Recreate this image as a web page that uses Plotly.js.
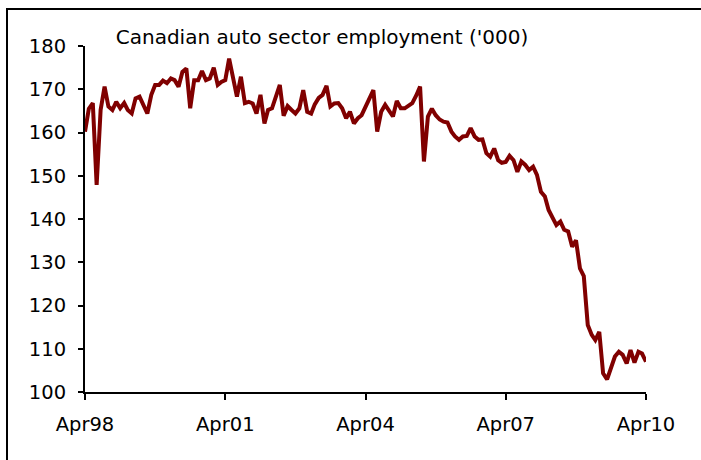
<!DOCTYPE html>
<html>
<head>
<meta charset="utf-8">
<script src="https://cdn.plot.ly/plotly-3.0.1.min.js"></script>
<style>
  html, body { margin: 0; padding: 0; background: #fff; overflow: hidden; }
  #wrap { position: relative; width: 701px; height: 460px; }
  #chart { position: absolute; left: 0; top: 0; width: 701px; height: 460px; }
  #frame { position: absolute; left: 6px; top: 8px; width: 800px; height: 600px;
           border-left: 2px solid #000; border-top: 2px solid #000; pointer-events: none; }
</style>
</head>
<body>
<div id="wrap">
  <div id="chart"></div>
  <div id="frame"></div>
</div>
<script>
// Monthly series, Apr 1998 .. Apr 2010 (thousands)
const startYear = 1998;
const startMonth = 4;
const employment = [
  160.2, 165.5, 166.8, 147.9, 165.2, 170.6, 166.0, 165.2, 167.1, 165.6,
  166.8, 165.2, 164.4, 167.9, 168.3, 166.4, 164.4, 168.7, 171.0, 171.0,
  172.0, 171.4, 172.5, 172.1, 170.6, 174.0, 174.8, 165.6, 172.1, 172.1,
  174.2, 172.1, 172.5, 175.0, 171.0, 171.7, 172.1, 177.1, 172.5, 168.3,
  172.9, 166.8, 167.1, 166.7, 164.4, 168.7, 162.1, 165.2, 165.6, 168.3,
  171.0, 163.9, 166.1, 165.2, 164.4, 165.6, 169.8, 164.8, 164.4, 166.5,
  168.0, 168.7, 170.8, 166.0, 166.7, 166.8, 165.6, 163.3, 164.8, 162.1,
  163.3, 164.0, 166.0, 168.1, 169.8, 160.2, 164.8, 166.4, 164.9, 163.7,
  167.3, 165.6, 165.6, 166.2, 166.8, 168.5, 170.6, 153.3, 163.7, 165.5,
  164.0, 163.0, 162.5, 162.3, 160.2, 159.1, 158.3, 159.1, 159.2, 161.0,
  159.1, 158.3, 158.4, 155.2, 154.4, 156.3, 153.6, 153.0, 153.2, 154.6,
  153.6, 150.9, 153.3, 152.5, 151.3, 152.1, 150.2, 146.3, 145.2, 142.1,
  140.2, 138.6, 139.4, 137.5, 137.1, 133.6, 135.1, 128.6, 126.8, 115.5,
  113.2, 112.0, 113.9, 104.3, 102.9, 105.9, 108.2, 109.3, 108.6, 106.6,
  109.7, 106.8, 109.3, 108.9, 107.0
];
const tickDates = ['1998-04-01', '2001-04-01', '2004-04-01', '2007-04-01', '2010-04-01'];
const tickLabels = ['Apr98', 'Apr01', 'Apr04', 'Apr07', 'Apr10'];
const yTicks = [100, 110, 120, 130, 140, 150, 160, 170, 180];
const chartTitle = "Canadian auto sector employment ('000)";

const months = employment.map((_, i) => {
  const total = (startMonth - 1) + i;
  const y = startYear + Math.floor(total / 12);
  const m = (total % 12) + 1;
  return y + '-' + String(m).padStart(2, '0') + '-01';
});

const font = 'DejaVu Sans, Verdana, sans-serif';

Plotly.newPlot('chart', [{
  x: months,
  y: employment,
  type: 'scatter',
  mode: 'lines',
  line: { color: '#800000', width: 4 },
  hoverinfo: 'skip'
}], {
  width: 701,
  height: 460,
  margin: { l: 85, r: 55, t: 46, b: 68 },
  paper_bgcolor: 'rgba(0,0,0,0)',
  plot_bgcolor: 'rgba(0,0,0,0)',
  showlegend: false,
  font: { family: font, color: '#000', size: 19.5 },
  title: {
    text: chartTitle,
    font: { family: font, size: 20, color: '#000' },
    xref: 'paper', x: 0.4225, xanchor: 'center',
    yref: 'container', y: 0.9196, yanchor: 'middle'
  },
  xaxis: {
    type: 'date',
    range: [tickDates[0], tickDates[tickDates.length - 1]],
    tickmode: 'array',
    tickvals: tickDates,
    ticktext: tickLabels,
    ticks: 'outside', ticklen: 6, tickwidth: 2, tickcolor: '#000',
    showline: true, linecolor: '#000', linewidth: 2,
    showgrid: false, zeroline: false,
    ticklabelstandoff: 8,
    tickfont: { family: font, size: 19.5, color: '#000' }
  },
  yaxis: {
    range: [100, 180],
    tickmode: 'array',
    tickvals: yTicks,
    ticks: 'outside', ticklen: 5, tickwidth: 2, tickcolor: '#000',
    showline: true, linecolor: '#000', linewidth: 2,
    showgrid: false, zeroline: false,
    ticklabelstandoff: 8,
    tickfont: { family: font, size: 19.5, color: '#000' }
  }
}, { staticPlot: true, displayModeBar: false });
</script>
</body>
</html>
